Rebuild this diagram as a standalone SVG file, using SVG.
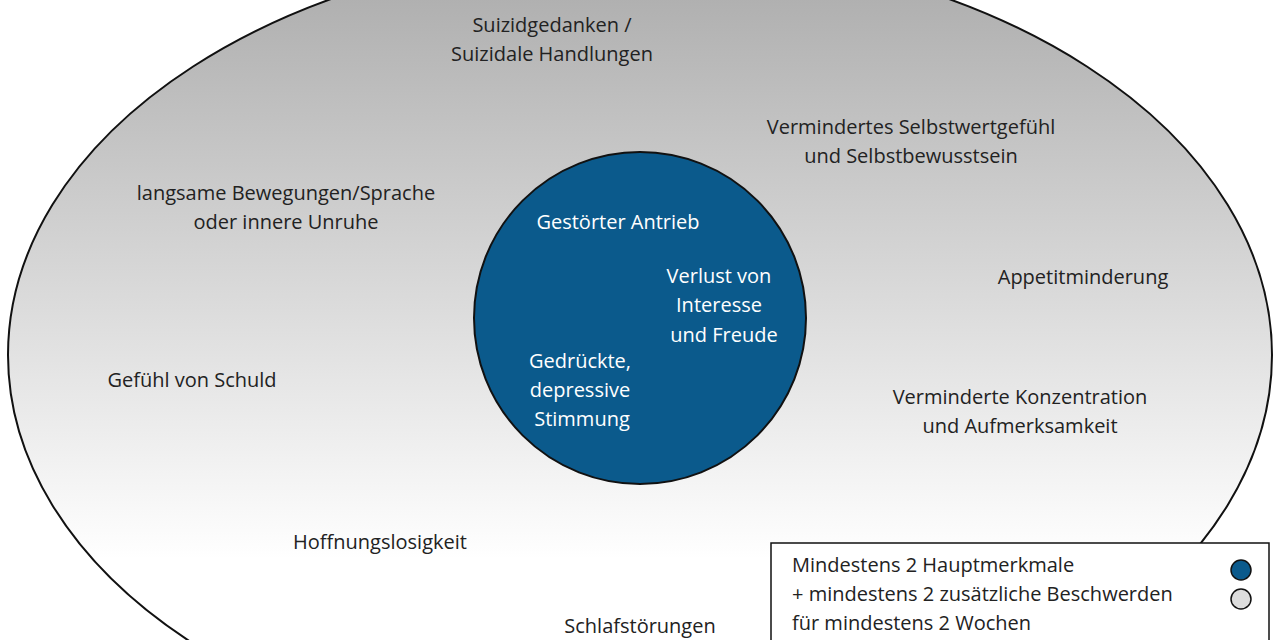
<svg xmlns="http://www.w3.org/2000/svg" width="1280" height="640" viewBox="0 0 1280 640">
<defs>
<linearGradient id="g" x1="0" y1="0" x2="0" y2="1">
<stop offset="0" stop-color="#a9a9a9"/><stop offset="0.75" stop-color="#ffffff"/>
</linearGradient>
<style>
text{font-family:"Open Sans","Liberation Sans",sans-serif;font-size:20px;fill:#222;text-anchor:middle}
.w{fill:#fff}
.l{text-anchor:start}
</style>
</defs>
<rect width="1280" height="640" fill="#fff"/>
<g id="outer"><ellipse cx="640" cy="355" rx="632" ry="408" fill="url(#g)" stroke="#111" stroke-width="2"/>
<text x="552" y="32">Suizidgedanken /</text><text x="552" y="61">Suizidale Handlungen</text>
<text x="911" y="134">Vermindertes Selbstwertgefühl</text><text x="911" y="163">und Selbstbewusstsein</text>
<text x="286" y="200">langsame Bewegungen/Sprache</text><text x="286" y="229">oder innere Unruhe</text>
<text x="1083" y="284">Appetitminderung</text>
<text x="192" y="387">Gefühl von Schuld</text>
<text x="1020" y="404">Verminderte Konzentration</text><text x="1020" y="433">und Aufmerksamkeit</text>
<text x="380" y="549">Hoffnungslosigkeit</text>
<text x="640" y="633">Schlafstörungen</text>
</g>
<g id="core"><circle cx="640" cy="318" r="166" fill="#0b5a8c" stroke="#111" stroke-width="2"/>
<text class="w" x="618" y="229">Gestörter Antrieb</text>
<text class="w" x="719" y="283">Verlust von</text><text class="w" x="719" y="312">Interesse</text><text class="w" x="724" y="342">und Freude</text>
<text class="w" x="580" y="368">Gedrückte,</text><text class="w" x="580" y="397">depressive</text><text class="w" x="582" y="426">Stimmung</text>
</g>
<g id="legend"><rect x="771" y="543" width="498" height="110" fill="#fff" stroke="#111" stroke-width="1.5"/>
<text class="l" x="792" y="572">Mindestens 2 Hauptmerkmale</text>
<text class="l" x="792" y="601">+ mindestens 2 zusätzliche Beschwerden</text>
<text class="l" x="792" y="630">für mindestens 2 Wochen</text>
<circle cx="1241" cy="570" r="10" fill="#0b5a8c" stroke="#111" stroke-width="1.5"/>
<circle cx="1241" cy="599" r="10" fill="#ddd" stroke="#111" stroke-width="1.5"/>
</g>
<g id="connectors"/>
</svg>
